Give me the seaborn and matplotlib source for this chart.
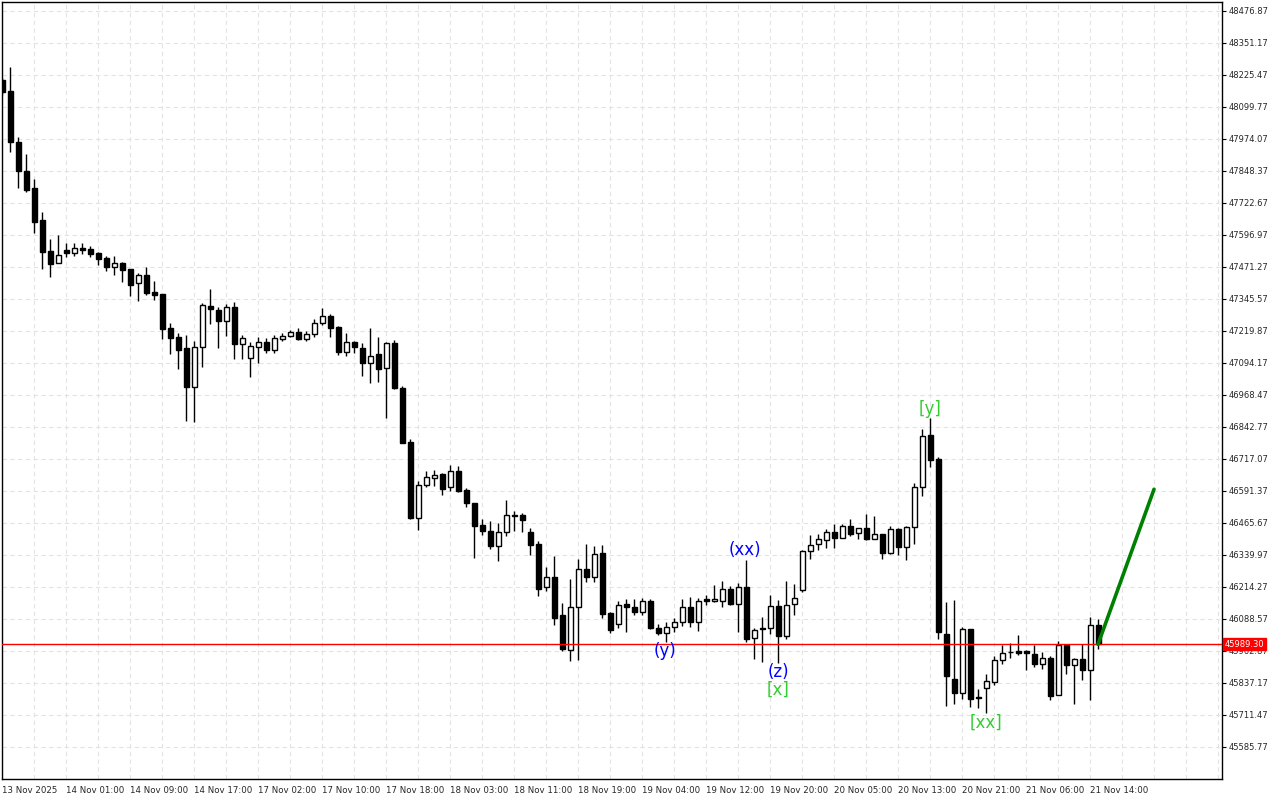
import numpy as np
import pandas as pd
import seaborn as sns
import matplotlib.pyplot as plt

# hourly candles (open, high, low, close)
opens = [48206, 48163, 47962, 47848, 47782, 47656, 47534, 47487, 47538, 47526,
         47546, 47542, 47526, 47507, 47471, 47487, 47463, 47408, 47440, 47373,
         47365, 47232, 47196, 47153, 47000, 47157, 47318, 47302, 47259, 47314,
         47169, 47114, 47157, 47177, 47145, 47188, 47200, 47216, 47188, 47208,
         47251, 47278, 47236, 47137, 47177, 47153, 47094, 47130, 47075, 47173,
         46996, 46784, 46485, 46615, 46642, 46658, 46607, 46670, 46595, 46544,
         46457, 46434, 46375, 46430, 46497, 46497, 46430, 46383, 46214, 46253,
         46104, 45967, 46135, 46285, 46253, 46348, 46112, 46068, 46147, 46135,
         46116, 46159, 46053, 46033, 46057, 46076, 46135, 46076, 46167, 46159,
         46159, 46206, 46147, 46214, 46014, 46053, 46053, 46139, 46021, 46147,
         46202, 46356, 46383, 46399, 46430, 46407, 46454, 46426, 46446, 46403,
         46422, 46348, 46442, 46371, 46450, 46607, 46811, 46717, 46029, 45852,
         45798, 46049, 45782, 45817, 45840, 45927, 45958, 45962, 45962, 45951,
         45912, 45935, 45790, 45986, 45908, 45931, 45888, 46065]
highs = [48214, 48257, 47982, 47915, 47817, 47687, 47581, 47597, 47565, 47565,
         47565, 47554, 47530, 47514, 47514, 47491, 47463, 47448, 47471, 47416,
         47365, 47251, 47212, 47204, 47181, 47330, 47385, 47314, 47326, 47334,
         47204, 47177, 47196, 47192, 47204, 47212, 47224, 47232, 47220, 47267,
         47310, 47286, 47240, 47212, 47181, 47173, 47232, 47196, 47178, 47184,
         47004, 46797, 46630, 46670, 46674, 46660, 46693, 46689, 46603, 46546,
         46481, 46473, 46465, 46556, 46513, 46505, 46446, 46395, 46292, 46336,
         46151, 46245, 46324, 46383, 46375, 46379, 46116, 46159, 46167, 46167,
         46171, 46167, 46068, 46076, 46092, 46167, 46175, 46171, 46182, 46222,
         46237, 46218, 46230, 46320, 46053, 46096, 46182, 46163, 46237, 46226,
         46360, 46419, 46422, 46442, 46462, 46462, 46481, 46446, 46501, 46493,
         46424, 46454, 46444, 46454, 46623, 46835, 46878, 46725, 46155, 46163,
         46057, 46051, 45813, 45872, 45943, 45986, 45994, 46025, 45966, 45986,
         45958, 45943, 46002, 45990, 45935, 45990, 46096, 46088]
lows = [48147, 47923, 47782, 47766, 47605, 47463, 47432, 47485, 47510, 47514,
        47522, 47510, 47479, 47456, 47440, 47412, 47357, 47338, 47361, 47342,
        47188, 47130, 47071, 46866, 46862, 47078, 47247, 47153, 47200, 47110,
        47110, 47039, 47094, 47133, 47133, 47181, 47196, 47186, 47181, 47196,
        47243, 47196, 47126, 47122, 47133, 47043, 47016, 47020, 46878, 46992,
        46778, 46483, 46438, 46607, 46611, 46575, 46591, 46589, 46528, 46328,
        46418, 46363, 46316, 46414, 46434, 46430, 46339, 46179, 46198, 46065,
        45963, 45924, 45928, 46233, 46233, 46092, 46033, 46053, 46037, 46104,
        46104, 46051, 46025, 45998, 46037, 46061, 46057, 46041, 46143, 46155,
        46135, 46143, 46037, 45998, 45932, 45920, 46029, 45916, 46010, 46104,
        46194, 46324, 46360, 46367, 46367, 46405, 46414, 46403, 46399, 46401,
        46324, 46344, 46340, 46320, 46383, 46571, 46685, 46010, 45746, 45754,
        45774, 45743, 45739, 45719, 45829, 45912, 45935, 45947, 45888, 45900,
        45892, 45770, 45788, 45872, 45754, 45849, 45770, 45971]
closes = [48159, 47962, 47848, 47774, 47648, 47530, 47483, 47518, 47526, 47546,
          47538, 47522, 47503, 47471, 47487, 47460, 47400, 47440, 47369, 47361,
          47228, 47192, 47145, 47000, 47157, 47322, 47306, 47259, 47314, 47169,
          47192, 47161, 47177, 47145, 47192, 47200, 47216, 47188, 47208, 47251,
          47278, 47232, 47137, 47177, 47157, 47094, 47122, 47071, 47173, 46996,
          46780, 46485, 46615, 46646, 46654, 46599, 46670, 46591, 46544, 46453,
          46434, 46375, 46430, 46497, 46493, 46477, 46379, 46206, 46253, 46092,
          45971, 46135, 46285, 46253, 46344, 46108, 46045, 46143, 46135, 46116,
          46159, 46053, 46033, 46057, 46076, 46135, 46076, 46159, 46159, 46167,
          46206, 46147, 46214, 46010, 46045, 46049, 46139, 46021, 46143, 46171,
          46356, 46379, 46403, 46430, 46407, 46454, 46422, 46446, 46403, 46422,
          46348, 46442, 46371, 46450, 46607, 46807, 46713, 46037, 45864, 45798,
          46049, 45774, 45778, 45844, 45927, 45955, 45960, 45955, 45955, 45912,
          45935, 45786, 45986, 45908, 45931, 45888, 46065, 45989.30]

time_labels = ["13 Nov 2025", "14 Nov 01:00", "14 Nov 09:00", "14 Nov 17:00",
               "17 Nov 02:00", "17 Nov 10:00", "17 Nov 18:00", "18 Nov 03:00",
               "18 Nov 11:00", "18 Nov 19:00", "19 Nov 04:00", "19 Nov 12:00",
               "19 Nov 20:00", "20 Nov 05:00", "20 Nov 13:00", "20 Nov 21:00",
               "21 Nov 06:00", "21 Nov 14:00"]

price_ticks = [45585.77 + 125.7 * k for k in range(24)]
current_price = 45989.30

# wave labels: (text, bar index, price, colour)
wave_labels = [("(y)", 82.8, 45963, "#0000ff"), ("(xx)", 92.8, 46359, "#0000ff"),
               ("(z)", 97.0, 45880, "#0000ff"), ("[x]", 97.0, 45809, "#33cc33"),
               ("[y]", 116.0, 46914, "#33cc33"), ("[xx]", 123.0, 45680, "#33cc33")]

# projected move
proj_idx = [137, 144]
proj_price = [45989.30, 46598]

df = pd.DataFrame({"open": opens, "high": highs, "low": lows, "close": closes})
df["idx"] = np.arange(len(df))
df["bull"] = df["close"] >= df["open"]

sns.set_style("white")
plt.rcParams["font.family"] = ["DejaVu Sans"]

fig = plt.figure(figsize=(12.8, 8), dpi=100)
ax = fig.add_axes([2 / 1280, 21 / 800, 1220 / 1280, 777 / 800])

# grid
for p in price_ticks:
    ax.axhline(p, color="#e3e3e3", lw=0.8, ls=(0, (4, 3)), zorder=0)
for gx in range(0, 153, 4):
    ax.axvline(gx, color="#e3e3e3", lw=0.8, ls=(0, (4, 3)), zorder=0)

# wicks and bodies
ax.vlines(df["idx"], df["low"], df["high"], color="black", lw=1, zorder=2)
body_bottom = df[["open", "close"]].min(axis=1)
body_h = (df["close"] - df["open"]).abs()
face = np.where(df["bull"], "white", "black")
ax.bar(df["idx"], body_h, bottom=body_bottom, width=0.62, color=face,
       edgecolor="black", linewidth=1, zorder=3)

ax.axhline(current_price, color="red", lw=1, zorder=4)
sns.lineplot(x=proj_idx, y=proj_price, ax=ax, color="#008000", lw=2.6, zorder=5)

for txt, xi, yp, col in wave_labels:
    ax.text(xi, yp, txt, color=col, fontsize=12, ha="center", va="center", zorder=6)

ax.set_xlim(-0.04, 152.5)
ax.set_ylim(45460, 48512)

ax.yaxis.tick_right()
ax.set_yticks(price_ticks)
ax.set_yticklabels([f"{p:.2f}" for p in price_ticks], fontsize=6)
ax.set_xticks(np.arange(0, 8 * len(time_labels), 8))
ax.set_xticklabels(time_labels, fontsize=6.2, ha="left")
ax.tick_params(axis="both", length=3, width=0.8, color="black", pad=2)
for s in ax.spines.values():
    s.set_color("black")
    s.set_linewidth(1)

ax.text(1.002, current_price, f"{current_price:.2f}", transform=ax.get_yaxis_transform(),
        fontsize=6, color="white", va="center", ha="left", zorder=10,
        bbox=dict(boxstyle="square,pad=0.2", fc="red", ec="red"))

fig.savefig("out.png", dpi=100)
